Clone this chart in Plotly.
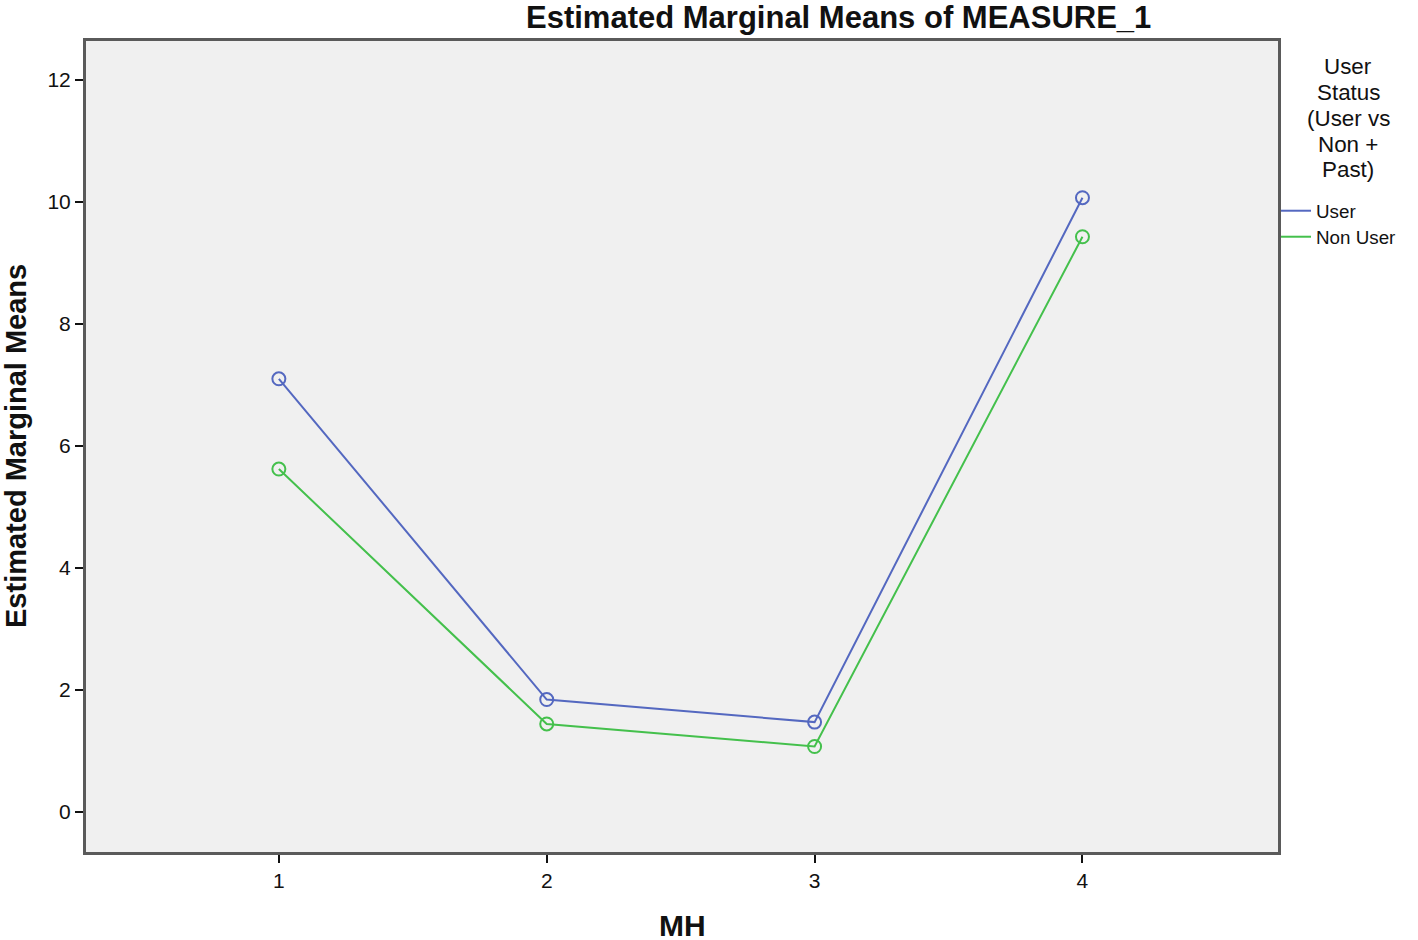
import plotly.graph_objects as go

mh_levels = [1, 2, 3, 4]
user_means = [7.10, 1.84, 1.47, 10.07]
nonuser_means = [5.62, 1.44, 1.07, 9.43]
series_names = ["User", "Non User"]
y_ticks = [0, 2, 4, 6, 8, 10, 12]
legend_title_lines = ["User", "Status", "(User vs", "Non +", "Past)"]

blue = "#5468c0"
green = "#44c04c"
font_family = "Arial, Liberation Sans, sans-serif"

# plot area in page pixels
L, R, T, B = 86, 1278, 41, 852
W, H = 1418, 940
def px_x(p):
    return (p - L) / (R - L)
def px_y(p):
    return (B - p) / (B - T)

fig = go.Figure()
legend_ids = ["legend", "legend2"]
for name, vals, col, lg in [(series_names[0], user_means, blue, legend_ids[0]),
                            (series_names[1], nonuser_means, green, legend_ids[1])]:
    fig.add_trace(go.Scatter(x=mh_levels, y=vals, mode="lines", name=name, legend=lg,
                             line=dict(color=col, width=2), showlegend=True))
    fig.add_trace(go.Scatter(x=mh_levels, y=vals, mode="markers", name=name,
                             marker=dict(symbol="circle-open", size=13, color=col,
                                         line=dict(width=2, color=col)),
                             showlegend=False))

annotations = [
    dict(text="<b>Estimated Marginal Means of MEASURE_1</b>", x=px_x(838), y=px_y(18),
         xref="paper", yref="paper", xanchor="center", yanchor="middle",
         showarrow=False, font=dict(size=31, family=font_family, color="#111111")),
    dict(text="<b>Estimated Marginal Means</b>", x=px_x(16), y=px_y(446), textangle=-90,
         xref="paper", yref="paper", xanchor="center", yanchor="middle",
         showarrow=False, font=dict(size=29, family=font_family, color="#111111")),
    dict(text="<b>MH</b>", x=px_x(682), y=px_y(925), height=28,
         xref="paper", yref="paper", xanchor="center", yanchor="middle",
         showarrow=False, font=dict(size=30, family=font_family, color="#111111")),
]
for i, line in enumerate(legend_title_lines):
    annotations.append(dict(text=line, x=px_x(1348), y=px_y(67 + i * 25.75),
                            xref="paper", yref="paper", xanchor="center", yanchor="middle",
                            showarrow=False, font=dict(size=22.4, family=font_family, color="#111111")))

legend_common = dict(xref="paper", yref="paper", xanchor="left", yanchor="middle",
                     font=dict(size=18.8, family=font_family, color="#111111"),
                     bgcolor="rgba(0,0,0,0)", itemwidth=30, tracegroupgap=0)

fig.update_layout(
    width=W, height=H,
    margin=dict(l=L, r=W - R, t=T, b=H - B),
    paper_bgcolor="white", plot_bgcolor="#f0f0f0",
    font=dict(family=font_family, color="#111111"),
    showlegend=True,
    legend=dict(x=px_x(1276), y=px_y(211), **legend_common),
    legend2=dict(x=px_x(1276), y=px_y(237), **legend_common),
    xaxis=dict(range=[0.28, 4.73], tickvals=mh_levels, ticktext=[str(v) for v in mh_levels],
               showgrid=False, zeroline=False, showline=True, mirror=True,
               linecolor="#5a5a5a", linewidth=3, ticks="outside", ticklen=8,
               tickcolor="#111111", tickwidth=2, tickfont=dict(size=21)),
    yaxis=dict(range=[-0.66, 12.64], tickvals=y_ticks, ticktext=[str(v) for v in y_ticks],
               showgrid=False, zeroline=False, showline=True, mirror=True,
               linecolor="#5a5a5a", linewidth=3, ticks="outside", ticklen=8,
               tickcolor="#111111", tickwidth=2, tickfont=dict(size=21)),
    annotations=annotations,
)

fig.write_html("out.html", config={"displayModeBar": False},
               post_script="document.body.style.margin='0';document.body.style.overflow='hidden';")
